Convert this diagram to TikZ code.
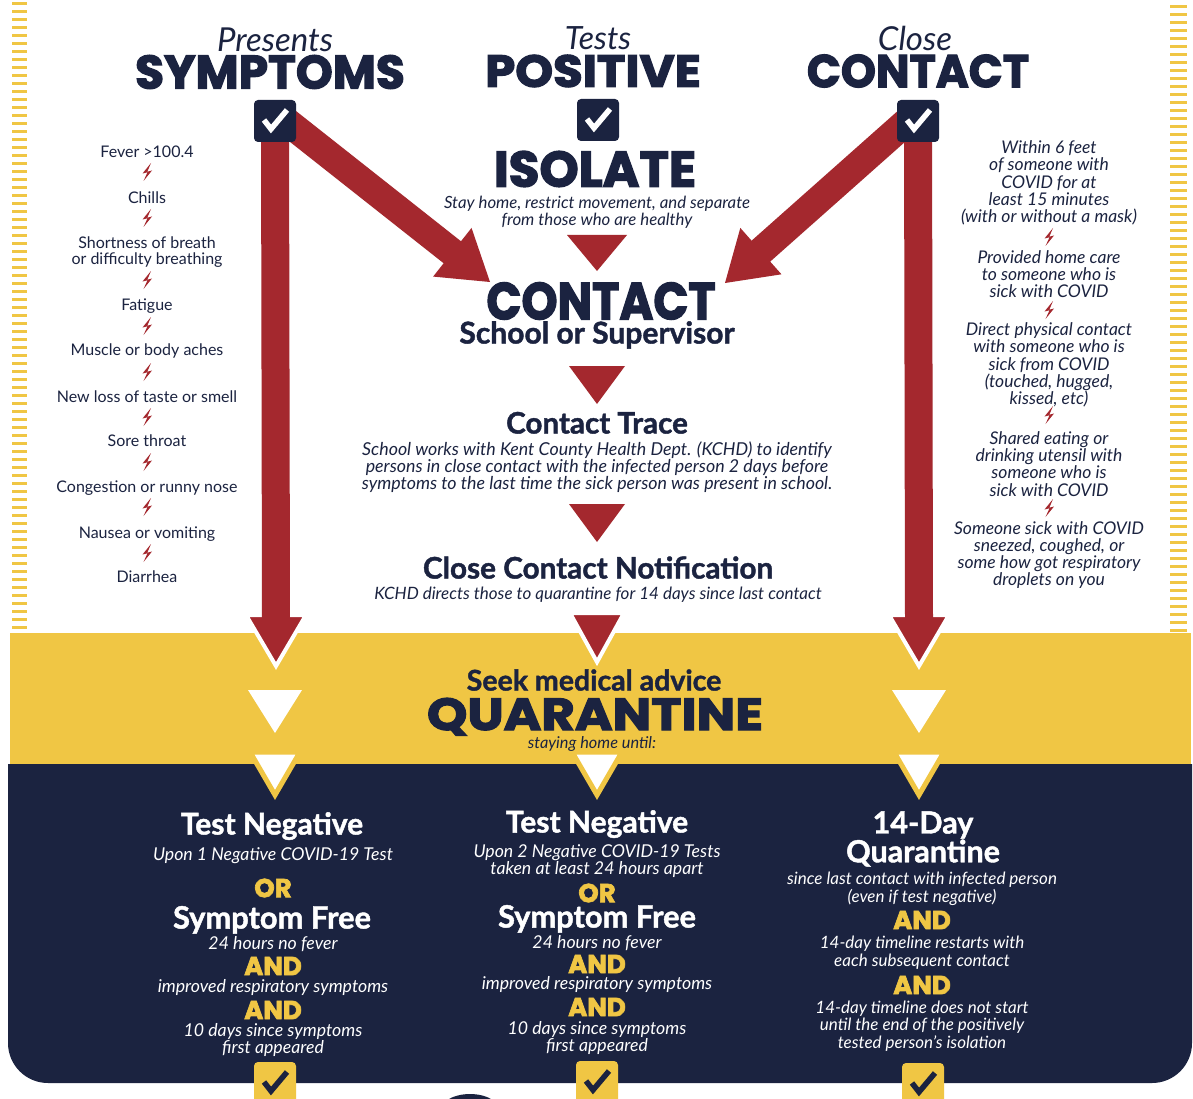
\documentclass[tikz,border=0pt]{standalone}
\usepackage{fontspec}
\usepackage{graphicx}
\setmainfont{Lato}
\newfontfamily\heavyfont{Poppins}[BoldFeatures={FakeBold=2.6}]
\newfontfamily\hboldfont{Lato}[BoldFeatures={FakeBold=1.4}]
\usetikzlibrary{calc}
\definecolor{navy}{RGB}{27,35,64}
\definecolor{ylw}{RGB}{240,198,68}
\definecolor{redc}{RGB}{164,40,46}
\pgfdeclarelayer{back}
\pgfdeclarelayer{mid}
\pgfsetlayers{back,mid,main}
\tikzset{
 txt/.style={inner sep=0pt, align=center, text=navy},
 hv/.style={txt, font=\heavyfont\bfseries\fontsize{#1}{#1}\selectfont},
 bld/.style={txt, font=\hboldfont\bfseries\fontsize{#1}{#1}\selectfont},
 itx/.style={txt, font=\itshape\fontsize{#1}{16.8}\selectfont},
 symtxt/.style={txt, font=\fontsize{16}{16.5}\selectfont},
 clist/.style={txt, font=\itshape\fontsize{17.5}{17.2}\selectfont},
 hitl/.style={txt, font=\itshape\fontsize{#1}{#1}\selectfont},
 wbld/.style={bld=#1, text=white},
 wit/.style={txt, text=white, font=\itshape\fontsize{#1}{17.8}\selectfont},
 yor/.style={hv=26, text=ylw},
 chk/.style={minimum size=42pt, inner sep=0pt, fill=navy, rounded corners=4pt,
   path picture={\draw[white,line width=5.5pt,sharp corners,line join=miter]
     ([shift={(-11,-1)}]path picture bounding box.center) -- ++(7,9) -- ++(16,-19);}},
 ychk/.style={minimum size=42pt, inner sep=0pt, fill=ylw, rounded corners=4pt,
   path picture={\draw[navy,line width=5.5pt,sharp corners,line join=miter]
     ([shift={(-11,-1)}]path picture bounding box.center) -- ++(7,9) -- ++(16,-19);}},
 shaft/.style={draw=redc, line width=28pt},
 rhead/.style={fill=redc, draw=white, line width=4pt, line join=miter},
 rtri/.style={fill=redc},
 wtri/.style={fill=white},
 ytri/.style={fill=white, draw=ylw, line width=5pt, line join=miter},
 bolt/.pic={\fill[redc] (4,-9) -- (-4.5,1.5) -- (0.5,0.3) -- (-3.5,9) -- (5,-1.5) -- (0.3,-0.3) -- cycle;}
}
\begin{document}
\begin{tikzpicture}[x=1pt,y=-1pt]
\useasboundingbox (0,0) rectangle (1193,1099);
\begin{pgfonlayer}{back}
\fill[white] (0,0) rectangle (1193,1099);
\foreach \y in {2,10,...,626}{\fill[ylw] (12,\y) rectangle (27,\y+3);}
\foreach \y in {5,13,...,629}{\fill[ylw] (1170,\y) rectangle (1187,\y+3);}
\fill[ylw] (10,633) rectangle (1191,766);
\fill[navy] (8,764) [rounded corners=40pt] -- (8,1083) -- (1192,1083) [sharp corners] -- (1192,764) -- cycle;
\fill[navy] (470,1114) ellipse [x radius=32, y radius=20];
\end{pgfonlayer}

% checkboxes
\node[chk] (symbox) at (275,121) {};
\node[chk] (posbox) at (598,120) {};
\node[chk] (ccbox) at (918,121) {};
\node[ychk] (yb1) at (275,1083) {};
\node[ychk] (yb2) at (597,1082) {};
\node[ychk] (yb3) at (923,1084) {};

% header
\node[hitl=33] (pres) at (275,40) {Presents};
\node[hv=47] (sym) at (270,72) {SYMPTOMS};
\node[hitl=32] (tests) at (598,38) {Tests};
\node[hv=45] (pos) at (593,71) {\scalebox{1.07}[1]{POSITIVE}};
\node[hitl=33] (closet) at (915,38) {Close};
\node[hv=46] (cct) at (918,71) {\scalebox{0.97}[1]{CONTACT}};

% center column
\node[hv=50] (iso) at (595,169) {ISOLATE};
\node[itx=16.8] (isod) at (597,212) {Stay home, restrict movement, and separate\\from those who are healthy};
\node[hv=52] (contact) at (601,301) {\scalebox{0.885}[1]{CONTACT}};
\node[bld=30, anchor=mid] (school) at (597,341) {School or Supervisor};
\node[bld=29.6, anchor=mid] (trace) at (597,431) {Contact Trace};
\node[itx=17.8] (traced) at (597,467) {School works with Kent County Health Dept. (KCHD) to identify\\persons in close contact with the infected person 2 days before\\symptoms to the last time the sick person was present in school.};
\node[bld=29.7, anchor=mid] (ccn) at (598,576) {Close Contact Notification};
\node[itx=17, anchor=mid] (ccnd) at (598,597) {KCHD directs those to quarantine for 14 days since last contact};

% left list
\node[symtxt, anchor=mid] (s1) at (147,155) {Fever >100.4};
\node[symtxt, anchor=mid] (s2) at (147,201) {Chills};
\node[symtxt] (s3) at (147,252) {Shortness of breath\\or difficulty breathing};
\node[symtxt, anchor=mid] (s4) at (147,308) {Fatigue};
\node[symtxt, anchor=mid] (s5) at (147,353) {Muscle or body aches};
\node[symtxt, anchor=mid] (s6) at (147,400) {New loss of taste or smell};
\node[symtxt, anchor=mid] (s7) at (147,444) {Sore throat};
\node[symtxt, anchor=mid] (s8) at (147,490) {Congestion or runny nose};
\node[symtxt, anchor=mid] (s9) at (147,536) {Nausea or vomiting};
\node[symtxt, anchor=mid] (s10) at (147,580) {Diarrhea};
\foreach \y in {172,218,280,326,372,417,462,507,553}{\pic at (147,\y) {bolt};}

% right list
\node[clist] (c1) at (1049,183) {Within 6 feet\\of someone with\\COVID for at\\least 15 minutes\\(with or without a mask)};
\node[clist] (c2) at (1049,274) {Provided home care\\to someone who is\\sick with COVID};
\node[clist] (c3) at (1049,365) {Direct physical contact\\with someone who is\\sick from COVID\\(touched, hugged,\\kissed, etc)};
\node[clist] (c4) at (1049,464) {Shared eating or\\drinking utensil with\\someone who is\\sick with COVID};
\node[clist] (c5) at (1049,555) {Someone sick with COVID\\sneezed, coughed, or\\some how got respiratory\\droplets on you};
\foreach \y in {237,310,415,508}{\pic at (1049,\y) {bolt};}

% yellow band
\node[bld=28.5, anchor=mid] (seek) at (594,688) {Seek medical advice};
\node[hv=45, anchor=base] (quar) at (595,730) {\scalebox{1.14}[1]{QUARANTINE}};
\node[txt, font=\itshape\fontsize{16.3}{16}\selectfont, anchor=mid] (stay) at (592,746) {staying home until:};

% navy left
\node[wbld=30, anchor=mid] (tn1) at (272,832) {Test Negative};
\node[wit=17.7, anchor=mid] (tn1d) at (273,858) {Upon 1 Negative COVID-19 Test};
\node[yor] (or1) at (273,888) {OR};
\node[wbld=30.8, anchor=mid] (sf1) at (272,926) {Symptom Free};
\node[wit=17.7, anchor=mid] (sf1a) at (273,947) {24 hours no fever};
\node[yor] (and1a) at (273,966) {AND};
\node[wit=17.7, anchor=mid] (sf1b) at (273,990) {improved respiratory symptoms};
\node[yor] (and1b) at (273,1010) {AND};
\node[wit=17.7] (sf1c) at (273,1040) {10 days since symptoms\\first appeared};

% navy center
\node[wbld=30, anchor=mid] (tn2) at (597,830) {Test Negative};
\node[wit=17.7] (tn2d) at (597,861) {Upon 2 Negative COVID-19 Tests\\taken at least 24 hours apart};
\node[yor] (or2) at (597,893) {OR};
\node[wbld=30.8, anchor=mid] (sf2) at (597,925) {Symptom Free};
\node[wit=17.7, anchor=mid] (sf2a) at (597,946) {24 hours no fever};
\node[yor] (and2a) at (597,964) {AND};
\node[wit=17.7, anchor=mid] (sf2b) at (597,987) {improved respiratory symptoms};
\node[yor] (and2b) at (597,1007) {AND};
\node[wit=17.7] (sf2c) at (597,1038) {10 days since symptoms\\first appeared};

% navy right
\node[wbld=30, font=\hboldfont\bfseries\fontsize{30.5}{27.5}\selectfont] (q14) at (923,839) {14-Day\\Quarantine};
\node[wit=17] (q14a) at (922,889) {since last contact with infected person\\(even if test negative)};
\node[yor] (and3a) at (922,920) {AND};
\node[wit=17] (q14b) at (922,953) {14-day timeline restarts with\\each subsequent contact};
\node[yor] (and3b) at (922,985) {AND};
\node[wit=17] (q14c) at (922,1026) {14-day timeline does not start\\until the end of the positively\\tested person’s isolation};

\begin{pgfonlayer}{mid}
% vertical arrows
\coordinate (Lv) at (276,666);
\filldraw[rhead] (246,615) -- (306,615) -- (Lv) -- cycle;
\draw[shaft] (symbox.center) -- ($(Lv)+(0,-45)$);
\coordinate (Rv) at (919,666);
\filldraw[rhead] (889,615) -- (949,615) -- (Rv) -- cycle;
\draw[shaft] (ccbox.center) -- ($(Rv)+(0,-45)$);
\coordinate (Cv) at (597,662);
\filldraw[rhead] (570,613) -- (624,613) -- (Cv) -- cycle;
% diagonal arrows
\coordinate (Ls) at ($(symbox.center)+(6,-4)$);
\coordinate (Lt) at (490,282);
\coordinate (Lb) at ($(Lt)!48pt!(Ls)$);
\draw[shaft] (Ls) -- ($(Lb)!4pt!(Lt)$);
\fill[redc] (Lt) -- ($(Lb)!31pt!90:(Lt)$) -- ($(Lb)!31pt!-90:(Lt)$) -- cycle;
\coordinate (Rs) at ($(ccbox.center)+(-6,-4)$);
\coordinate (Rt) at (725,283);
\coordinate (Rb) at ($(Rt)!48pt!(Rs)$);
\draw[shaft] (Rs) -- ($(Rb)!4pt!(Rt)$);
\fill[redc] (Rt) -- ($(Rb)!31pt!90:(Rt)$) -- ($(Rb)!31pt!-90:(Rt)$) -- cycle;
% center red triangles
\fill[rtri] (567,235) -- (627,235) -- (597,271) -- cycle;
\fill[rtri] (569,366) -- (625,366) -- (597,404) -- cycle;
\fill[rtri] (569,504) -- (625,504) -- (597,542) -- cycle;
% white triangles
\fill[wtri] (248,690) -- (302,690) -- (275,733) -- cycle;
\fill[wtri] (892,690) -- (946,690) -- (919,733) -- cycle;
\filldraw[ytri] (250,752) -- (300,752) -- (275,795) -- cycle;
\filldraw[ytri] (572,752) -- (622,752) -- (597,795) -- cycle;
\filldraw[ytri] (894,752) -- (944,752) -- (919,795) -- cycle;
\end{pgfonlayer}
\end{tikzpicture}
\end{document}
